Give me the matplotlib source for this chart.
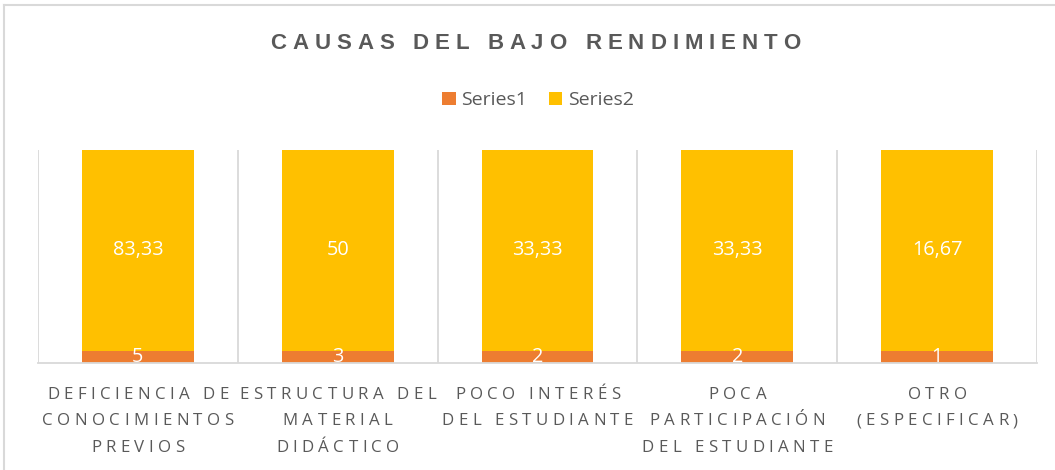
import matplotlib
matplotlib.use("Agg")
import matplotlib.pyplot as plt
from matplotlib.lines import Line2D
from matplotlib.text import Text
from matplotlib.transforms import IdentityTransform, Bbox
from matplotlib.font_manager import findfont, get_font
from matplotlib.ft2font import LoadFlags
import numpy as np

categories = ["DEFICIENCIA DE\nCONOCIMIENTOS\nPREVIOS",
              "ESTRUCTURA DEL\nMATERIAL\nDIDÁCTICO",
              "POCO INTERÉS\nDEL ESTUDIANTE",
              "POCA\nPARTICIPACIÓN\nDEL ESTUDIANTE",
              "OTRO\n(ESPECIFICAR)"]
series1 = [5, 3, 2, 2, 1]
series2 = [83.33, 50, 33.33, 33.33, 16.67]
series_names = ["Series1", "Series2"]
title = "CAUSAS DEL BAJO RENDIMIENTO"

c1 = "#ED7D31"
c2 = "#FFC000"
txt = "#595959"
grid = "#D9D9D9"


class SpacedText(Text):
    """Centred multi-line text with letter spacing (tracking, in em)."""

    def __init__(self, x, y, text, tracking=0.0, line_px=20.0, cap=0.715, **kw):
        kw.setdefault("ha", "center")
        super().__init__(x, y, text, **kw)
        self._tracking = tracking
        self._line_px = line_px
        self._cap = cap

    def _glyph_layout(self):
        fp = self.get_fontproperties()
        dpi = self.figure.dpi
        size_pt = fp.get_size_in_points()
        size_px = size_pt * dpi / 72.0
        sp = self._tracking * size_px
        L = self._line_px * dpi / 100.0
        X, Y = self.get_transform().transform(self.get_unitless_position())
        lines = self.get_text().split("\n")
        n = len(lines)
        va = self.get_verticalalignment()
        if va == "top":
            yb0 = Y - self._cap * size_px
        elif va in ("center", "center_baseline"):
            yb0 = Y - self._cap * size_px / 2.0 + (n - 1) * L / 2.0
        else:
            yb0 = Y
        font = get_font(findfont(fp))
        glyphs = []
        xmin, xmax = np.inf, -np.inf
        for i, line in enumerate(lines):
            font.set_size(size_pt, dpi)
            advs = [font.load_char(ord(ch), flags=LoadFlags.NO_HINTING).linearHoriAdvance / 65536.0
                    for ch in line]
            width = sum(advs) + sp * (len(advs) - 1)
            pen = X - width / 2.0
            xmin, xmax = min(xmin, pen), max(xmax, pen + width)
            yb = yb0 - i * L
            for ch, adv in zip(line, advs):
                if ch != " ":
                    glyphs.append((ch, pen, yb))
                pen += adv + sp
        ytop = yb0 + 0.75 * size_px
        ybot = yb0 - (n - 1) * L - 0.22 * size_px
        return fp, glyphs, Bbox.from_extents(xmin, ybot, xmax, ytop)

    def get_window_extent(self, renderer=None, dpi=None):
        return self._glyph_layout()[2]

    def draw(self, renderer):
        if not self.get_visible() or not self.get_text():
            return
        fp, glyphs, _ = self._glyph_layout()
        for ch, px, py in glyphs:
            t = Text(px, py, ch, fontproperties=fp, color=self.get_color(),
                     ha="left", va="baseline", transform=IdentityTransform())
            t.set_figure(self.figure)
            t.draw(renderer)


fig = plt.figure(figsize=(10.55, 4.70), dpi=100)
W, H = 1055, 470
ax_bottom_px, ax_top_px = 363, 150
ax = fig.add_axes([38 / W, 1 - ax_bottom_px / H, (1037 - 38) / W,
                   (ax_bottom_px - ax_top_px) / H])

s1 = np.array(series1, dtype=float)
s2 = np.array(series2, dtype=float)
tot = s1 + s2
p1 = s1 / tot * 100
p2 = s2 / tot * 100
x = np.arange(len(categories))
w = 0.56

b1 = ax.bar(x, p1, w, color=c1, label=series_names[0], zorder=3)
b2 = ax.bar(x, p2, w, bottom=p1, color=c2, label=series_names[1], zorder=3)


def fmt(v):
    return f"{v:g}".replace(".", ",")


for bars, vals in ((b1, series1), (b2, series2)):
    for rect, v in zip(bars, vals):
        ax.text(rect.get_x() + rect.get_width() / 2, rect.get_y() + rect.get_height() / 2,
                fmt(v), ha="center", va="center", color="white", fontsize=14.3,
                family="Open Sans", zorder=4, clip_on=True)

ax.set_xlim(-0.5, len(categories) - 0.5)
ax.set_ylim(0, 100)
ax.set_yticks([])
for b in np.arange(-0.5, len(categories), 1.0):
    ax.axvline(b, color=grid, lw=1.3, zorder=1)
for s in ["top", "right", "left"]:
    ax.spines[s].set_visible(False)
ax.spines["bottom"].set_color(grid)
ax.spines["bottom"].set_linewidth(1.3)
ax.spines["bottom"].set_zorder(5)
ax.set_xticks(x)
ax.set_xticklabels([])
ax.tick_params(axis="x", length=0)

ax_h = ax_bottom_px - ax_top_px
for xi, lab in zip(x, categories):
    st = SpacedText(xi, -(386.5 - ax_bottom_px) / ax_h, lab, tracking=0.26, line_px=26.7,
                    transform=ax.get_xaxis_transform(), color=txt, va="top",
                    fontsize=12.2, family="Open Sans", linespacing=1.25)
    st.set_clip_on(False)
    ax.add_artist(st)

fig.add_artist(SpacedText(535.5 / W, 1 - 41.3 / H, title, tracking=0.27, cap=0.716,
                          transform=fig.transFigure, color=txt, fontsize=16, va="center",
                          fontweight="bold", family="Liberation Sans"))

leg = fig.legend(handles=[b1, b2], labels=series_names, loc="center",
                 bbox_to_anchor=(538 / W, 1 - 100 / H), ncol=2, frameon=False,
                 handlelength=0.68, handleheight=0.68,
                 handletextpad=0.3, columnspacing=1.1,
                 prop={"family": "Open Sans", "size": 14})
for t in leg.get_texts():
    t.set_color(txt)

fig.add_artist(Line2D([4 / W, 4 / W], [0, 1 - 5 / H], transform=fig.transFigure,
                      color=grid, lw=1.5))
fig.add_artist(Line2D([4 / W, 1], [1 - 5 / H, 1 - 5 / H], transform=fig.transFigure,
                      color=grid, lw=1.5))

fig.savefig("out.png", dpi=100)
